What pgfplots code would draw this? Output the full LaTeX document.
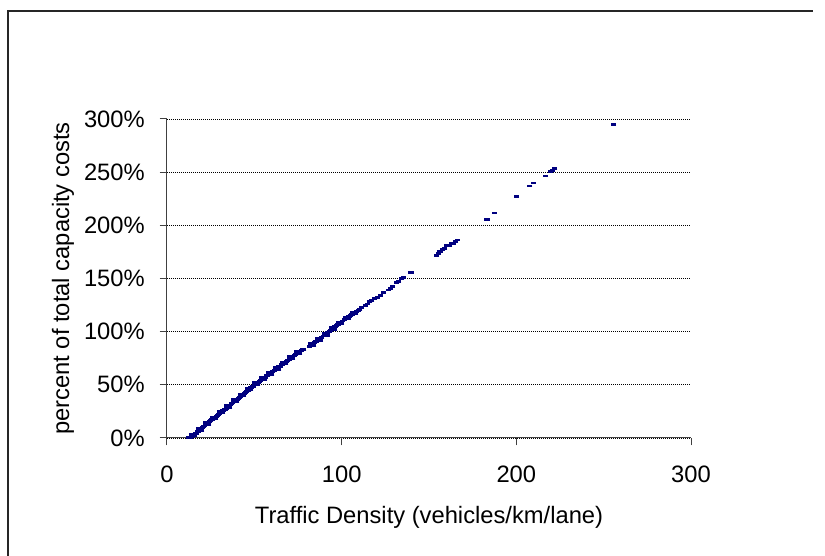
\documentclass[border=0pt]{standalone}
\usepackage{fontspec}
\setmainfont{Liberation Sans}
\usepackage{pgfplots}
\pgfplotsset{compat=1.18}
\definecolor{navyb}{RGB}{0,0,128}
\begin{document}
\fontsize{17.8}{21}\selectfont
\begin{tikzpicture}
\useasboundingbox (0,0) rectangle (618.75pt,417pt);
\draw[line width=1.5pt, black!85] (6.2pt,-2pt) -- (6.2pt,408.8pt) -- (609.75pt,408.8pt);
\begin{axis}[
  at={(125.25pt,88.5pt)}, anchor=south west,
  scale only axis, width=393pt, height=239.25pt,
  xmin=0, xmax=300, ymin=0, ymax=300,
  axis lines*=left,
  axis line style={black!75, line width=0.75pt},
  tick style={black!75, line width=0.75pt},
  tick align=outside, major tick length=5.5pt,
  xtick={0,100,200,300}, ytick={0,50,100,150,200,250,300},
  yticklabel={\pgfmathprintnumber{\tick}\%},
  /pgf/number format/assume math mode=true,
  ymajorgrids,
  major grid style={black, line width=0.6pt, dash pattern=on 0.75pt off 0.75pt},
  xticklabel style={inner sep=0pt, anchor=north, yshift=-15pt},
  yticklabel style={inner sep=0pt, anchor=east, xshift=-11pt},
  xlabel={Traffic Density (vehicles/km/lane)},
  ylabel={percent of total capacity costs},
  xlabel style={at={(axis description cs:0.5,-0.25)}, anchor=center, inner sep=0pt},
  ylabel style={at={(axis description cs:-0.1985,0.5)}, anchor=center, inner sep=0pt},
  clip=false,
]
\addplot[only marks, mark=-, mark size=1.9pt, navyb, mark options={line width=2.2pt}] coordinates {
(12.6,0.2) (13.4,0.0) (13.9,1.2) (14.5,1.5) (15.0,2.9) (15.6,3.0) (16.2,4.4) (16.8,4.6)
(17.3,6.0) (17.9,6.3) (18.5,7.5) (19.1,8.2) (19.6,9.1) (20.3,9.6) (20.9,11.0) (21.4,11.3)
(22.0,12.6) (22.7,13.2) (23.2,14.1) (23.9,14.6) (24.5,15.8) (25.1,16.1) (25.7,17.3) (26.3,17.8)
(26.9,18.9) (27.6,19.3) (28.2,20.6) (28.8,21.0) (29.4,22.2) (30.0,22.8) (30.7,23.9) (31.3,24.2)
(31.9,25.5) (32.6,26.1) (33.2,27.2) (33.8,27.6) (34.5,28.9) (35.1,29.6) (35.8,30.6) (36.4,31.0)
(37.0,32.4) (37.7,32.9) (38.3,34.0) (39.0,34.5) (39.6,35.8) (40.3,36.6) (40.9,37.5) (41.6,38.0)
(42.2,39.3) (42.9,40.0) (43.5,41.0) (44.2,41.6) (44.8,42.9) (45.5,43.6) (46.1,44.5) (46.8,45.1)
(47.4,46.4) (48.1,47.1) (48.8,48.0) (49.5,48.6) (50.1,50.0) (50.8,50.5) (51.5,51.6) (52.2,52.0)
(52.9,53.4) (53.6,53.8) (54.3,55.0) (55.0,55.7) (55.7,56.8) (56.4,57.2) (57.1,58.6) (57.8,59.1)
(58.5,60.2) (59.2,60.7) (59.9,62.0) (60.6,62.6) (61.3,63.7) (62.0,64.1) (62.7,65.5) (63.4,66.0)
(64.1,67.1) (64.8,67.6) (65.5,68.9) (66.2,69.3) (67.0,70.6) (67.7,71.2) (68.4,72.3) (69.2,72.8)
(69.9,74.1) (70.6,74.6) (71.4,75.9) (72.1,76.5) (72.9,77.6) (73.7,78.1) (74.4,79.5) (75.2,80.0)
(76.0,81.2) (76.8,82.1) (77.6,83.1) (78.3,83.5)
(81.4,85.9) (82.0,86.8) (82.8,87.4) (83.6,88.6) (84.5,89.5) (85.3,90.8) (86.2,91.6) (87.0,92.9)
(87.7,93.5) (88.6,94.7) (89.4,95.9) (90.3,96.8) (91.1,98.2) (91.9,99.1) (92.8,100.3) (93.6,101.5)
(94.5,102.4) (95.3,103.6) (96.2,104.8) (97.0,105.6) (97.9,106.9) (98.8,107.8) (99.6,108.7) (100.5,110.0)
(101.4,111.2) (102.3,112.0) (103.2,113.1) (104.2,114.3) (105.2,115.2) (105.9,116.0) (107.0,117.3) (108.3,118.8)
(109.5,119.9) (110.4,121.2) (111.5,122.3)
(113.5,124.6) (115.0,126.0) (116.2,128.0) (117.3,129.4) (119.0,131.3) (120.5,132.3) (122.0,134.4) (124.0,136.4)
(126.7,139.2) (128.0,140.8) (129.2,142.3) (131.5,146.0) (132.6,147.0) (134.4,149.6) (135.3,150.8) (139.7,155.5)
(154.4,172.0) (155.4,173.6) (156.3,175.2) (157.8,177.0) (159.0,178.5) (160.1,180.6) (162.0,181.0) (163.0,182.5)
(164.0,183.3) (165.2,184.8) (166.2,186.2)
(183.2,205.7) (187.4,211.6) (200.2,227.3) (207.8,237.0) (209.7,239.8) (216.8,246.4) (219.4,250.5) (220.8,251.6)
(222.1,253.6) (255.7,294.4)
(14,3.4) (16,2.0) (18,8.8) (20,7.3) (22,14.3) (24,13.1) (26,19.7) (28,18.1)
(30,25.1) (32,23.5) (34,30.5) (36,29.0) (38,35.9) (40,34.4) (42,41.3) (44,39.8)
(46,46.7) (48,45.2) (50,52.1) (52,50.3) (54,56.9) (56,55.2) (58,61.8) (60,60.0)
(62,66.6) (64,64.8) (66,71.4) (68,69.7) (70,76.3) (72,74.5) (74,81.1) (76,79.3)
(82,88.7) (84,87.0) (86,93.6) (88,91.9) (90,98.5) (92,96.8) (94,103.8) (96,102.4)
(98,109.1) (100,107.3) (102,113.8) (104,112.0) (106,118.5) (108,116.7)
};
\end{axis}
\end{tikzpicture}
\end{document}
